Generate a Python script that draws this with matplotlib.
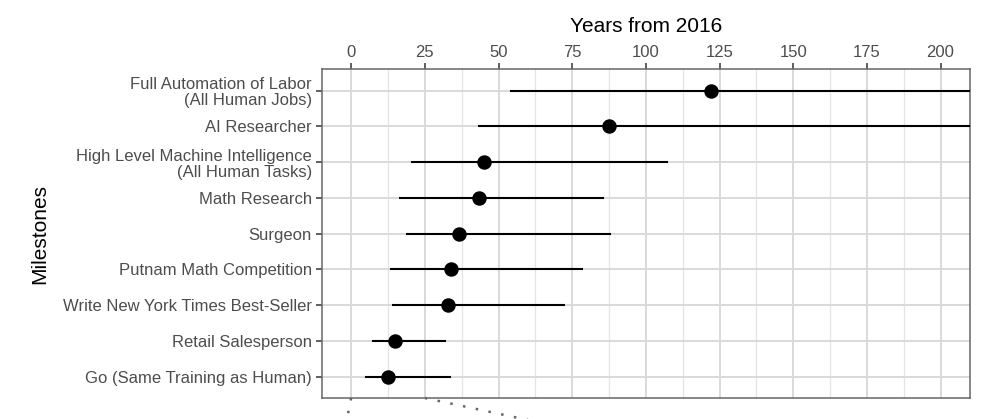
import matplotlib
matplotlib.use("Agg")
import matplotlib.pyplot as plt
from matplotlib.ticker import MultipleLocator

plt.rcParams['font.family'] = ['Liberation Sans', 'DejaVu Sans']

milestones = [
    "Full Automation of Labor\n(All Human Jobs)",
    "AI Researcher",
    "High Level Machine Intelligence\n(All Human Tasks)",
    "Math Research",
    "Surgeon",
    "Putnam Math Competition",
    "Write New York Times Best-Seller",
    "Retail Salesperson",
    "Go (Same Training as Human)",
]
median_years = [122.2, 87.6, 45.1, 43.5, 36.7, 33.9, 33.0, 14.9, 12.4]
low_years = [54.0, 43.0, 20.2, 16.4, 18.5, 13.3, 14.0, 7.0, 4.6]
high_years = [300.0, 300.0, 107.4, 85.9, 88.1, 78.6, 72.4, 32.1, 33.8]
x_ticks = [0, 25, 50, 75, 100, 125, 150, 175, 200]

fig = plt.figure(figsize=(10, 4.19), dpi=100)
ax = fig.add_axes([0.3217, 0.0501, 0.6483, 0.7845])

n = len(milestones)
ypos = [n - 1 - i for i in range(n)]

for y, lo, hi in zip(ypos, low_years, high_years):
    ax.plot([lo, hi], [y, y], color='black', lw=1.5, solid_capstyle='butt', zorder=3)
ax.plot(median_years, ypos, 'o', color='black', markersize=9.4, zorder=4)

ax.set_xlim(-10, 210)
ax.set_ylim(-0.6, n - 0.4)
ax.set_yticks(ypos)
ax.set_yticklabels(milestones, linespacing=1.08)
ax.set_xticks(x_ticks)
ax.xaxis.set_minor_locator(MultipleLocator(12.5))

ax.xaxis.tick_top()
ax.xaxis.set_label_position('top')
ax.set_xlabel("Years from 2016", fontsize=15, labelpad=9)
ax.set_ylabel("Milestones", fontsize=15, labelpad=10)

ax.tick_params(axis='both', which='major', labelsize=12, labelcolor='#4D4D4D',
               color='#333333', length=4, width=1.1, pad=3)
ax.tick_params(axis='x', which='minor', length=0, top=False, bottom=False)
ax.tick_params(axis='x', which='both', bottom=False)

ax.grid(True, which='major', axis='both', color='#D9D9D9', lw=1.4, zorder=0)
ax.grid(True, which='minor', axis='x', color='#E4E4E4', lw=0.9, zorder=0)
ax.set_axisbelow(True)

for s in ax.spines.values():
    s.set_color('#666666')
    s.set_linewidth(1.1)

# dotted connector lines below the panel
ax.plot([0, -1.6], [-0.6, -1.25], color='#666666', lw=1.8,
        linestyle=(0, (1, 4.2)), clip_on=False, zorder=5)
ax.plot([25, 62], [-0.6, -1.25], color='#666666', lw=1.8,
        linestyle=(0, (1, 4.2)), clip_on=False, zorder=5)

fig.savefig("out.png", dpi=100)
